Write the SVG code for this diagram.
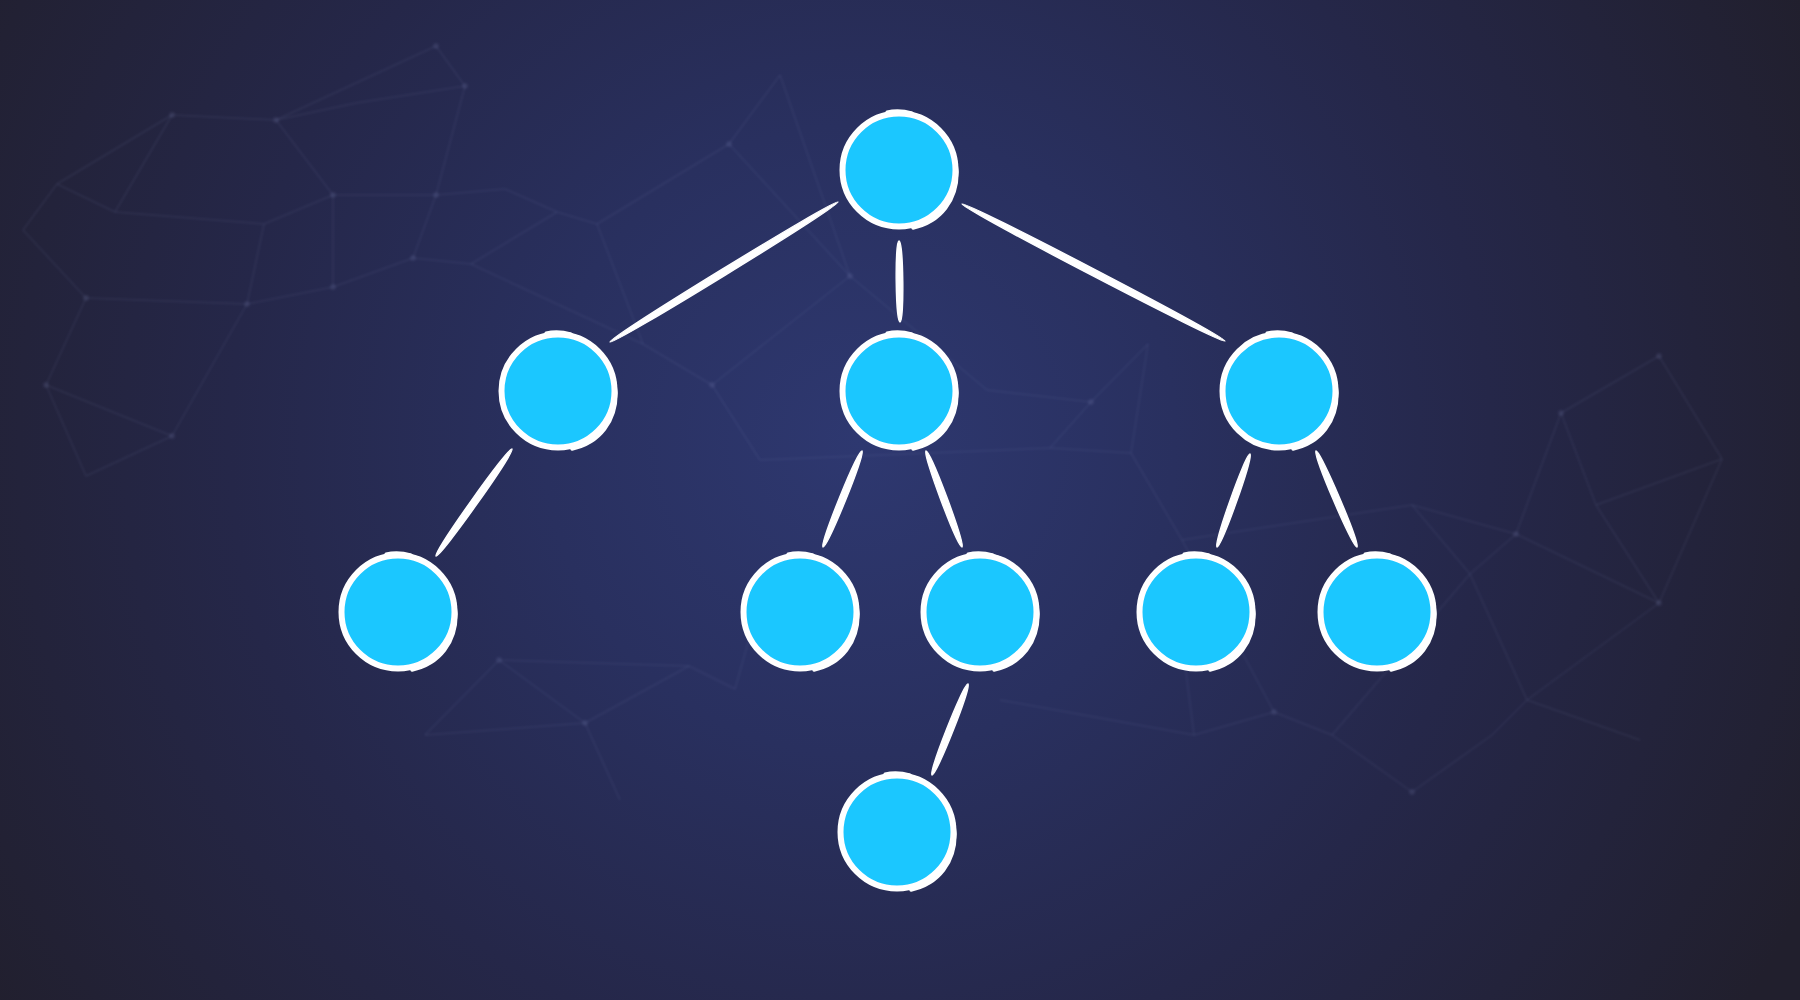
<svg xmlns="http://www.w3.org/2000/svg" xmlns:xlink="http://www.w3.org/1999/xlink" width="1800" height="1000" viewBox="0 0 1800 1000">
<defs>
<radialGradient id="bg" cx="860" cy="440" r="1050" gradientUnits="userSpaceOnUse">
<stop offset="0" stop-color="#2e3870"/>
<stop offset="0.3" stop-color="#29305f"/>
<stop offset="0.6" stop-color="#252749"/>
<stop offset="1" stop-color="#211f2d"/>
</radialGradient>
<filter id="soft" x="-5%" y="-5%" width="110%" height="110%"><feGaussianBlur stdDeviation="0.8"/></filter>
<g id="bubble">
<circle r="56.5" fill="#1bc7ff" stroke="#ffffff" stroke-width="6"/>
<path d="M10,-57 C38,-50 57,-26 58,2 C58,30 42,52 14,58" fill="none" stroke="#ffffff" stroke-width="3.5" stroke-linecap="round"/>
<path d="M-12,-58 Q0,-61 13,-57" fill="none" stroke="#ffffff" stroke-width="3" stroke-linecap="round"/>
</g>
</defs>
<style>
.net line{stroke:#8a90c0;stroke-width:1.5;stroke-opacity:0.1}
.net circle{fill:#8a90c0;fill-opacity:0.14}
.edge{fill:#ffffff;stroke:#ffffff;stroke-width:1.4;stroke-linejoin:round}
</style>
<rect width="1800" height="1000" fill="url(#bg)"/>
<g id="background-network" class="net" filter="url(#soft)">
<line x1="172" y1="115" x2="276" y2="120"/><line x1="276" y1="120" x2="436" y2="46"/><line x1="436" y1="46" x2="465" y2="86"/>
<line x1="276" y1="120" x2="356" y2="103"/><line x1="356" y1="103" x2="465" y2="86"/><line x1="276" y1="120" x2="333" y2="195"/>
<line x1="333" y1="195" x2="436" y2="195"/><line x1="436" y1="195" x2="505" y2="189"/><line x1="465" y1="86" x2="436" y2="195"/>
<line x1="505" y1="189" x2="557" y2="212"/><line x1="557" y1="212" x2="597" y2="224"/><line x1="436" y1="195" x2="413" y2="258"/>
<line x1="413" y1="258" x2="471" y2="264"/><line x1="471" y1="264" x2="557" y2="212"/><line x1="333" y1="195" x2="333" y2="287"/>
<line x1="333" y1="287" x2="413" y2="258"/><line x1="333" y1="287" x2="247" y2="304"/><line x1="247" y1="304" x2="86" y2="298"/>
<line x1="86" y1="298" x2="46" y2="385"/><line x1="46" y1="385" x2="172" y2="436"/><line x1="172" y1="436" x2="247" y2="304"/>
<line x1="46" y1="385" x2="86" y2="476"/><line x1="86" y1="476" x2="172" y2="436"/><line x1="23" y1="230" x2="86" y2="298"/>
<line x1="57" y1="184" x2="115" y2="212"/><line x1="115" y1="212" x2="264" y2="224"/><line x1="264" y1="224" x2="333" y2="195"/>
<line x1="115" y1="212" x2="172" y2="115"/><line x1="57" y1="184" x2="23" y2="230"/><line x1="172" y1="115" x2="57" y2="184"/>
<line x1="264" y1="224" x2="247" y2="304"/><line x1="780" y1="75" x2="729" y2="144"/><line x1="729" y1="144" x2="597" y2="224"/>
<line x1="780" y1="75" x2="850" y2="276"/><line x1="729" y1="144" x2="850" y2="276"/><line x1="850" y1="276" x2="712" y2="385"/>
<line x1="712" y1="385" x2="643" y2="344"/><line x1="643" y1="344" x2="597" y2="224"/><line x1="643" y1="344" x2="471" y2="264"/>
<line x1="850" y1="276" x2="987" y2="390"/><line x1="987" y1="390" x2="1091" y2="402"/><line x1="1091" y1="402" x2="1050" y2="448"/>
<line x1="1050" y1="448" x2="1131" y2="453"/><line x1="1131" y1="453" x2="1182" y2="540"/><line x1="1091" y1="402" x2="1148" y2="344"/>
<line x1="1148" y1="344" x2="1131" y2="453"/><line x1="712" y1="385" x2="760" y2="460"/><line x1="760" y1="460" x2="1050" y2="448"/>
<line x1="1561" y1="413" x2="1659" y2="356"/><line x1="1659" y1="356" x2="1722" y2="459"/><line x1="1561" y1="413" x2="1596" y2="505"/>
<line x1="1596" y1="505" x2="1659" y2="603"/><line x1="1561" y1="413" x2="1516" y2="534"/><line x1="1516" y1="534" x2="1412" y2="505"/>
<line x1="1412" y1="505" x2="1470" y2="574"/><line x1="1470" y1="574" x2="1516" y2="534"/><line x1="1516" y1="534" x2="1659" y2="603"/>
<line x1="1659" y1="603" x2="1722" y2="459"/><line x1="1470" y1="574" x2="1527" y2="700"/><line x1="1527" y1="700" x2="1659" y2="603"/>
<line x1="1527" y1="700" x2="1640" y2="740"/><line x1="1412" y1="505" x2="1182" y2="540"/><line x1="1596" y1="505" x2="1722" y2="459"/>
<line x1="425" y1="735" x2="499" y2="660"/><line x1="499" y1="660" x2="585" y2="723"/><line x1="585" y1="723" x2="689" y2="666"/>
<line x1="689" y1="666" x2="735" y2="689"/><line x1="499" y1="660" x2="689" y2="666"/><line x1="585" y1="723" x2="620" y2="800"/>
<line x1="425" y1="735" x2="585" y2="723"/><line x1="735" y1="689" x2="760" y2="600"/>
<line x1="1000" y1="700" x2="1194" y2="735"/><line x1="1194" y1="735" x2="1274" y2="712"/><line x1="1274" y1="712" x2="1332" y2="735"/>
<line x1="1332" y1="735" x2="1412" y2="792"/><line x1="1412" y1="792" x2="1492" y2="735"/><line x1="1492" y1="735" x2="1527" y2="700"/>
<line x1="1274" y1="712" x2="1182" y2="540"/><line x1="1332" y1="735" x2="1470" y2="574"/><line x1="1194" y1="735" x2="1182" y2="640"/>
<circle cx="172" cy="115" r="3"/><circle cx="276" cy="120" r="3"/><circle cx="436" cy="46" r="3"/><circle cx="465" cy="86" r="3"/>
<circle cx="333" cy="195" r="3"/><circle cx="436" cy="195" r="3"/><circle cx="413" cy="258" r="3"/><circle cx="333" cy="287" r="3"/>
<circle cx="247" cy="304" r="3"/><circle cx="86" cy="298" r="3"/><circle cx="46" cy="385" r="3"/><circle cx="172" cy="436" r="3"/>
<circle cx="729" cy="144" r="3"/><circle cx="850" cy="276" r="3"/><circle cx="712" cy="385" r="3"/><circle cx="1091" cy="402" r="3"/>
<circle cx="1561" cy="413" r="3"/><circle cx="1659" cy="356" r="3"/><circle cx="1516" cy="534" r="3"/><circle cx="1659" cy="603" r="3"/>
<circle cx="499" cy="660" r="3"/><circle cx="585" cy="723" r="3"/><circle cx="1274" cy="712" r="3"/><circle cx="1412" cy="792" r="3"/>
</g>
<g id="connectors">
<path class="edge" d="M610,342 C612.3,345.75 840.3,205.75 838,202 C835.7,198.25 607.7,338.25 610,342 Z"/>
<path class="edge" d="M899,241 C903.4,241 904.4,322 900,322 C895.6,322 894.6,241 899,241 Z"/>
<path class="edge" d="M962,204 C959.97,207.9 1222.97,344.9 1225,341 C1227.03,337.1 964.03,200.1 962,204 Z"/>
<path class="edge" d="M512,449 C515.59,451.55 439.59,558.55 436,556 C432.41,553.45 508.41,446.45 512,449 Z"/>
<path class="edge" d="M862,451 C866.08,452.65 827.08,548.65 823,547 C818.92,545.35 857.92,449.35 862,451 Z"/>
<path class="edge" d="M926,451 C921.88,452.54 957.88,548.54 962,547 C966.12,545.46 930.12,449.46 926,451 Z"/>
<path class="edge" d="M1250,454 C1254.14,455.47 1221.14,548.47 1217,547 C1212.86,545.53 1245.86,452.53 1250,454 Z"/>
<path class="edge" d="M1316,451 C1311.95,452.73 1352.95,548.73 1357,547 C1361.05,545.27 1320.05,449.27 1316,451 Z"/>
<path class="edge" d="M968,684 C972.09,685.62 936.09,776.62 932,775 C927.91,773.38 963.91,682.38 968,684 Z"/>
</g>
<g id="node-root" transform="translate(899,170)"><use xlink:href="#bubble" href="#bubble"/></g>
<g id="node-l2-left" transform="translate(558,391)"><use xlink:href="#bubble" href="#bubble"/></g>
<g id="node-l2-mid" transform="translate(899,391)"><use xlink:href="#bubble" href="#bubble"/></g>
<g id="node-l2-right" transform="translate(1279,391)"><use xlink:href="#bubble" href="#bubble"/></g>
<g id="node-l3-a" transform="translate(398,612)"><use xlink:href="#bubble" href="#bubble"/></g>
<g id="node-l3-b" transform="translate(800,612)"><use xlink:href="#bubble" href="#bubble"/></g>
<g id="node-l3-c" transform="translate(980,612)"><use xlink:href="#bubble" href="#bubble"/></g>
<g id="node-l3-d" transform="translate(1196,612)"><use xlink:href="#bubble" href="#bubble"/></g>
<g id="node-l3-e" transform="translate(1377,612)"><use xlink:href="#bubble" href="#bubble"/></g>
<g id="node-l4" transform="translate(897,832)"><use xlink:href="#bubble" href="#bubble"/></g>
</svg>
